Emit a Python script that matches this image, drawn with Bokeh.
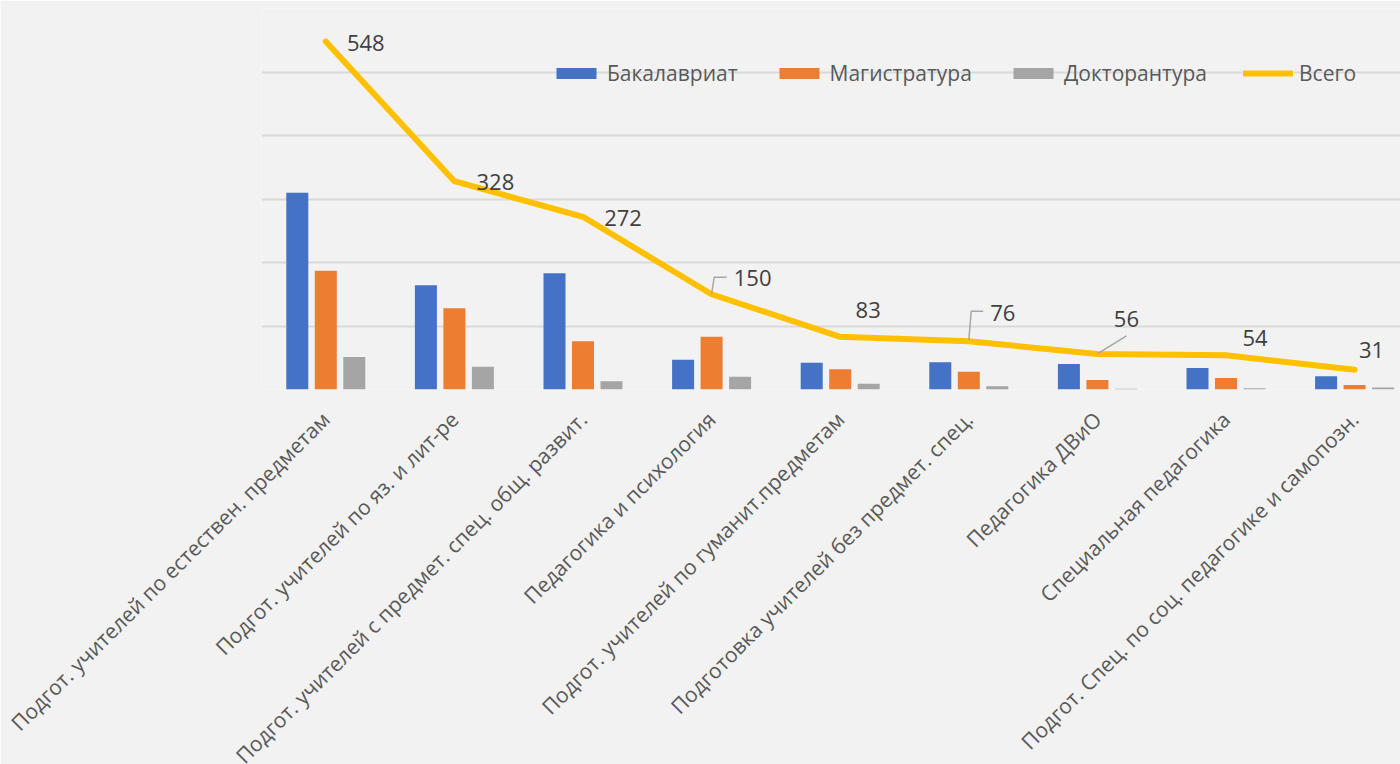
import math
import numpy as np
from bokeh.plotting import figure
from bokeh.models import Range1d, FixedTicker, Legend, LegendItem, ColumnDataSource
from bokeh.core.properties import value
from bokeh.embed import file_html
from bokeh.resources import INLINE

# ---- data ----
categories = [
    "Подгот. учителей по естествен. предметам",
    "Подгот. учителей по яз. и лит-ре",
    "Подгот. учителей с предмет. спец. общ. развит.",
    "Педагогика и психология",
    "Подгот. учителей по гуманит.предметам",
    "Подготовка учителей без предмет. спец.",
    "Педагогика ДВиО",
    "Специальная педагогика",
    "Подгот. Спец. по соц. педагогике и самопозн.",
]
bachelor = [310, 164, 183, 47, 42, 43, 40, 34, 21]
master = [187, 128, 76, 83, 32, 28, 15, 18, 7]
doctor = [51, 36, 13, 20, 9, 5, 1, 2, 3]
total = [548, 328, 272, 150, 83, 76, 56, 54, 31]
y_ticks = [0, 100, 200, 300, 400, 500, 600]

# label placement (screen px, +x right, +y down) relative to each total point
lab_dx = [40, 41, 40, 41, 28, 34, 29, 29, 17]
lab_dy = [1, 1, 1, -16, -27, -28, -35, -17, -20]

# ---- layout ----
FRAME_W, FRAME_H = 1139, 381
X0 = -0.5
X1 = X0 + FRAME_W / 128.6
Y1 = 600
px_x = FRAME_W / (X1 - X0)
px_y = FRAME_H / Y1

p = figure(
    frame_width=FRAME_W, frame_height=FRAME_H,
    x_range=Range1d(X0, X1), y_range=Range1d(0, Y1),
    output_backend="svg", toolbar_location=None, title=None,
    min_border_left=261, min_border_right=0, min_border_top=8, min_border_bottom=375,
)
bg = "#F2F2F2"
p.background_fill_color = bg
p.border_fill_color = bg
p.outline_line_color = None

p.yaxis.visible = False
p.yaxis.ticker = FixedTicker(ticks=y_ticks)
p.ygrid.grid_line_color = "#D9D9D9"
p.ygrid.grid_line_width = 2
p.xgrid.visible = False

idx = np.arange(len(categories))
p.xaxis.ticker = FixedTicker(ticks=list(idx))
p.xaxis.major_label_overrides = {int(i): c for i, c in zip(idx, categories)}
p.xaxis.major_label_orientation = math.pi / 4
p.xaxis.axis_line_color = None
p.xaxis.major_tick_line_color = None
p.xaxis.minor_tick_line_color = None
p.xaxis.major_label_standoff = 20
p.xaxis.major_label_text_font = "Open Sans"
p.xaxis.major_label_text_font_size = "21px"
p.xaxis.major_label_text_color = "#595959"

bw = 22 / 128.6
off = 28.5 / 128.6
r_b = p.vbar(x=idx - off, top=bachelor, width=bw, fill_color="#4472C4", line_color=None)
r_m = p.vbar(x=idx, top=master, width=bw, fill_color="#ED7D31", line_color=None)
r_d = p.vbar(x=idx + off, top=doctor, width=bw, fill_color="#A5A5A5", line_color=None)
r_t = p.line(x=idx, y=total, line_color="#FFC000", line_width=6,
             line_cap="round", line_join="round")

# leader lines for a few labels
tot = np.array(total, dtype=float)
leaders_x = [
    [3, 3 + 2.6 / px_x, 3 + 15 / px_x],
    [5, 5 + 2.4 / px_x, 5 + 14.4 / px_x],
    [6, 6 + 29 / px_x],
]
leaders_y = [
    [tot[3], tot[3] + 17 / px_y, tot[3] + 17 / px_y],
    [tot[5] + 1 / px_y, tot[5] + 30 / px_y, tot[5] + 30 / px_y],
    [tot[6], tot[6] + 18 / px_y],
]
p.multi_line(xs=leaders_x, ys=leaders_y, line_color="#A6A6A6", line_width=1.5)

src = ColumnDataSource(dict(x=idx, y=total, t=[str(v) for v in total],
                            dx=lab_dx, dy=lab_dy))
p.text(x="x", y="y", text="t", x_offset="dx", y_offset="dy", source=src,
       text_font=value("Open Sans"), text_font_size="22px", text_color="#404040",
       text_align="center", text_baseline="middle")

legend = Legend(
    items=[
        LegendItem(label="Бакалавриат", renderers=[r_b]),
        LegendItem(label="Магистратура", renderers=[r_m]),
        LegendItem(label="Докторантура", renderers=[r_d]),
        LegendItem(label="Всего", renderers=[r_t]),
    ],
    orientation="horizontal", location=(290, 302),
    glyph_width=50, glyph_height=14, label_standoff=6, spacing=36,
    padding=0, margin=0, background_fill_alpha=0, border_line_color=None,
    label_text_font="Open Sans", label_text_font_size="21px", label_text_color="#595959",
)
p.add_layout(legend, "center")

open("out.html", "w").write(file_html(p, INLINE))
